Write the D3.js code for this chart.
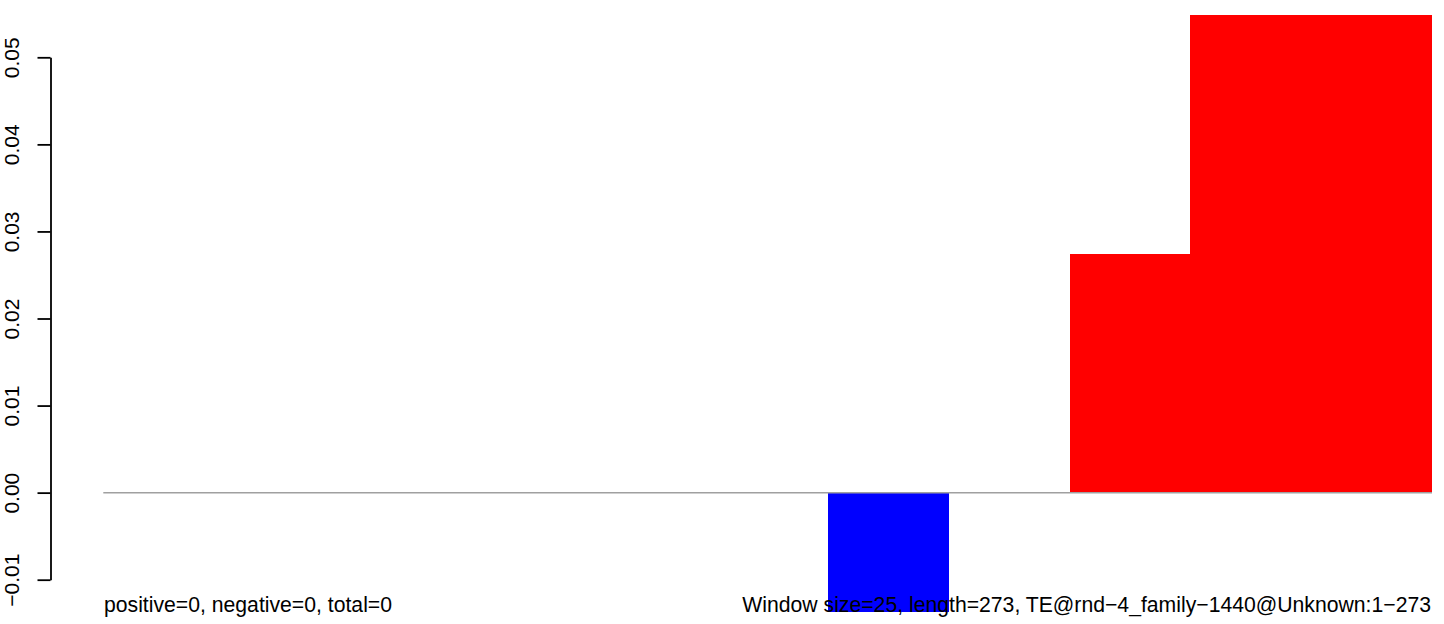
<!DOCTYPE html>
<html>
<head>
<meta charset="utf-8">
<script src="https://cdn.jsdelivr.net/npm/d3@7"></script>
<style>
  html, body { margin: 0; padding: 0; background: #fff; }
  svg { display: block; }
  text { font-family: "Liberation Sans", Arial, Helvetica, sans-serif; }
</style>
</head>
<body>
<svg id="chart" width="1444" height="624"></svg>
<script>
// Data: one value per window (window size 25, length 273)
const windowIndex = [0, 1, 2, 3, 4, 5, 6, 7, 8, 9, 10];
const windowValues = [0, 0, 0, 0, 0, 0, -0.01374, 0, 0.02744, 0.05488, 0.05488];
const yTicks = [-0.01, 0.00, 0.01, 0.02, 0.03, 0.04, 0.05];
const leftLabel = "positive=0, negative=0, total=0";
const rightLabel = "Window size=25, length=273, TE@rnd\u22124_family\u22121440@Unknown:1\u2212273";

const svg = d3.select("#chart");

const x = d3.scaleLinear().domain([0, 11]).range([103.3, 1432]);
const y = d3.scaleLinear().domain([-0.01, 0.05]).range([579.7, 57.3]);

// bars
svg.append("g").selectAll("rect")
  .data(windowIndex.map((d, i) => ({ i: d, v: windowValues[i] })).filter(d => d.v !== 0))
  .join("rect")
  .attr("x", d => x(d.i))
  .attr("width", d => x(d.i + 1) - x(d.i))
  .attr("y", d => Math.min(y(d.v), y(0)))
  .attr("height", d => Math.abs(y(d.v) - y(0)))
  .attr("fill", d => d.v > 0 ? "#ff0000" : "#0000ff")
  .attr("shape-rendering", "crispEdges");

// zero line
svg.append("line")
  .attr("x1", x(0)).attr("x2", x(11))
  .attr("y1", y(0)).attr("y2", y(0))
  .attr("stroke", "#a0a0a0")
  .attr("stroke-width", 1.5);

// y axis
const axis = d3.axisLeft(y)
  .tickValues(yTicks)
  .tickSize(13)
  .tickSizeOuter(0)
  .tickFormat(d3.format(".2f"));

const gAxis = svg.append("g")
  .attr("transform", "translate(50.5,0)")
  .call(axis);
gAxis.select(".domain").attr("stroke", "#000").attr("stroke-width", 1.8);
gAxis.selectAll(".tick line").attr("stroke", "#000").attr("stroke-width", 1.8);
gAxis.selectAll(".tick text")
  .attr("x", 0).attr("dy", null)
  .attr("font-size", 21)
  .attr("fill", "#000")
  .attr("text-anchor", "middle")
  .attr("transform", "translate(-32,0) rotate(-90)");

// bottom texts
svg.append("text")
  .attr("x", 104).attr("y", 612)
  .attr("font-size", 21.2)
  .attr("fill", "#000")
  .text(leftLabel);

svg.append("text")
  .attr("x", 1431).attr("y", 612)
  .attr("font-size", 21.2)
  .attr("fill", "#000")
  .attr("text-anchor", "end")
  .text(rightLabel);
</script>
</body>
</html>
